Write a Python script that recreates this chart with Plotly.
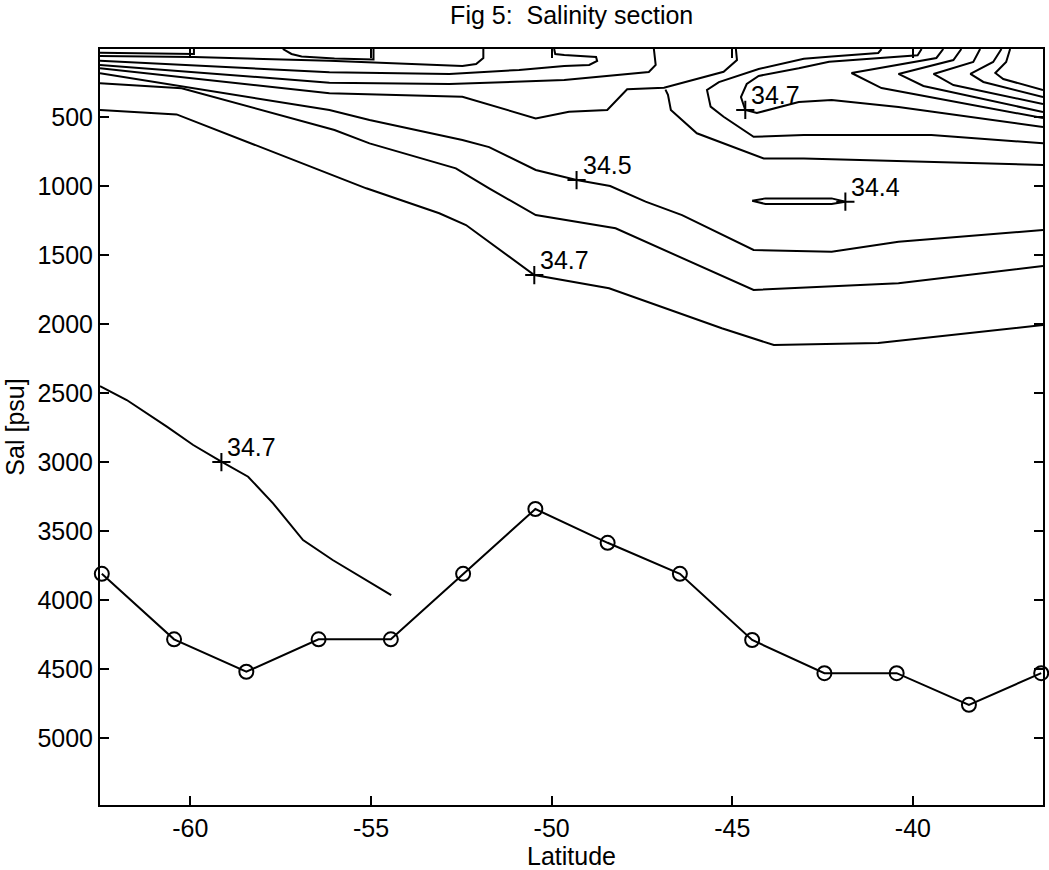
import plotly.graph_objects as go

# ---------------- data (latitude, depth) ----------------
station_lat = [-62.45, -60.45, -58.45, -56.45, -54.45, -52.45, -50.45,
               -48.45, -46.45, -44.45, -42.45, -40.45, -38.45, -36.45]
bottom_depth = [3810, 4285, 4520, 4285, 4285, 3810, 3340,
                3585, 3810, 4290, 4530, 4530, 4760, 4530]

deep_lat = [-62.50, -61.76, -60.65, -59.92, -59.14, -58.40, -57.71, -56.88, -56.06, -54.44]
deep_dep = [2450, 2550, 2743, 2876, 2997, 3106, 3299, 3565, 3710, 3964]

l1_lat = [-62.50, -60.38, -55.13, -53.11, -52.37, -50.48, -48.41, -45.29, -43.85, -40.96, -36.40]
l1_dep = [447, 479, 1015, 1196, 1281, 1644, 1740, 2030, 2151, 2137, 2006]

l2_lat = [-62.50, -60.24, -56.01, -55.04, -52.65, -51.73, -50.44, -48.23, -44.41, -40.40, -36.40]
l2_dep = [254, 290, 592, 689, 870, 1015, 1209, 1305, 1752, 1704, 1578]

l3_lat = [-62.50, -56.15, -55.04, -52.47, -51.73, -50.44, -49.31, -48.38, -47.40, -46.39,
          -44.41, -42.25, -40.40, -36.40]
l3_dep = [181, 447, 520, 665, 716, 882, 955, 998, 1112, 1209, 1462, 1475, 1402, 1317]

d_lat = [-62.50, -56.15, -52.47, -50.44, -49.52, -48.46, -47.91, -46.89, -45.24, -44.87, -44.90]
d_dep = [145, 326, 351, 508, 460, 447, 297, 286, 170, 85, 5]

c_lat = [-62.50, -56.15, -52.83, -49.65, -47.31, -47.12, -47.17]
c_dep = [121, 249, 259, 230, 172, 121, 5]

b_lat = [-62.50, -56.15, -52.83, -50.90, -49.65, -48.96, -48.74, -48.77, -49.65, -49.90, -49.93]
b_dep = [90, 174, 186, 157, 128, 121, 92, 63, 49, 41, 5]

t7_lat = [-62.50, -59.90, -56.15, -54.96, -52.47, -52.09, -51.89, -51.89]
t7_dep = [56, 63, 90, 104, 128, 114, 70, 5]

t1_lat = [-62.50, -59.90, -59.90]
t1_dep = [32, 41, 5]

t2_lat = [-57.44, -57.20, -56.92, -56.01, -54.93, -54.93]
t2_dep = [5, 41, 59, 74, 81, 5]

e_lat = [-46.85, -46.78, -46.70, -45.98, -44.13, -43.02, -36.40]
e_dep = [300, 338, 447, 616, 798, 798, 846]

f_lat = [-40.87, -40.96, -42.25, -43.02, -44.27, -45.37, -45.70, -45.60, -45.24, -44.41,
         -43.02, -39.49, -36.40]
f_dep = [5, 34, 60, 75, 150, 245, 302, 423, 496, 641, 629, 629, 689]

g_lat = [-39.76, -39.87, -42.32, -43.16, -44.27, -44.60, -44.76, -44.64, -44.32, -43.16,
         -42.25, -40.40, -36.40]
g_dep = [5, 50, 97, 145, 200, 259, 353, 447, 469, 389, 375, 426, 570]

ch0_lat = [-39.16, -39.35, -41.70, -40.87, -36.40]
ch0_dep = [5, 70, 179, 288, 506]
ch1_lat = [-38.66, -38.88, -40.40, -39.71, -36.40]
ch1_dep = [5, 85, 186, 273, 462]
ch2_lat = [-38.14, -38.33, -39.43, -38.88, -36.40]
ch2_dep = [5, 99, 186, 266, 404]
ch3_lat = [-37.55, -37.78, -38.41, -38.05, -36.40]
ch3_dep = [5, 99, 186, 244, 354]
ch4_lat = [-37.31, -37.42, -37.72, -37.50, -36.40]
ch4_dep = [5, 99, 179, 223, 302]

loop44_lat = [-44.45, -44.08, -42.25, -41.87, -42.25, -44.08, -44.45]
loop44_dep = [1105, 1088, 1088, 1112, 1129, 1129, 1105]

label_lat = [-59.14, -50.48, -49.31, -44.64, -41.87]
label_dep = [3000, 1644, 955, 447, 1112]
label_txt = ["34.7", "34.7", "34.5", "34.7", "34.4"]

x_ticks = [-60, -55, -50, -45, -40]
y_ticks = [500, 1000, 1500, 2000, 2500, 3000, 3500, 4000, 4500, 5000]

# ---------------- figure ----------------
FONT = "Liberation Sans, Arial, Helvetica, sans-serif"
FS = 25
fig = go.Figure()

contours = [
    (deep_lat, deep_dep), (l1_lat, l1_dep), (l2_lat, l2_dep), (l3_lat, l3_dep),
    (d_lat, d_dep), (c_lat, c_dep), (b_lat, b_dep), (t7_lat, t7_dep),
    (t1_lat, t1_dep), (t2_lat, t2_dep), (e_lat, e_dep), (f_lat, f_dep),
    (g_lat, g_dep), (ch0_lat, ch0_dep), (ch1_lat, ch1_dep), (ch2_lat, ch2_dep),
    (ch3_lat, ch3_dep), (ch4_lat, ch4_dep), (loop44_lat, loop44_dep),
]
for xs, ys in contours:
    fig.add_trace(go.Scatter(x=xs, y=ys, mode="lines",
                             line=dict(color="black", width=2),
                             hoverinfo="skip", showlegend=False))

fig.add_trace(go.Scatter(x=station_lat, y=bottom_depth, mode="lines+markers",
                         line=dict(color="black", width=2),
                         marker=dict(symbol="circle-open", size=14,
                                     line=dict(color="black", width=2)),
                         cliponaxis=False, showlegend=False))

fig.add_trace(go.Scatter(x=label_lat, y=label_dep, mode="markers",
                         marker=dict(symbol="cross-thin", size=13,
                                     line=dict(color="black", width=2)),
                         showlegend=False))

for lx, ly, lt in zip(label_lat, label_dep, label_txt):
    fig.add_annotation(x=lx, y=ly, text=lt, showarrow=False,
                       xanchor="left", yanchor="bottom", xshift=4, yshift=-1,
                       font=dict(family=FONT, size=FS, color="black"))

fig.update_layout(
    width=1049, height=870,
    margin=dict(l=100, r=4, t=49, b=65),
    paper_bgcolor="white", plot_bgcolor="white",
    font=dict(family=FONT, size=FS, color="black"),
    title=dict(text="Fig 5:\u00a0 Salinity section", x=0.545, xanchor="center",
               y=1 - 15 / 870, yanchor="middle", yref="container",
               font=dict(family=FONT, size=FS, color="black")),
)
fig.update_xaxes(range=[-62.5, -36.4], tickvals=x_ticks, ticktext=[str(v) for v in x_ticks],
                 showgrid=False, zeroline=False, showline=True, linecolor="black",
                 linewidth=2, mirror="ticks", ticks="inside", ticklen=9, tickwidth=2,
                 tickcolor="black", title=dict(text="Latitude", standoff=2,
                                               font=dict(family=FONT, size=FS)))
fig.update_yaxes(range=[5486, 5], tickvals=y_ticks, ticktext=[str(v) for v in y_ticks],
                 showgrid=False, zeroline=False, showline=True, linecolor="black",
                 linewidth=2, mirror="ticks", ticks="inside", ticklen=9, tickwidth=2,
                 tickcolor="black", title=dict(text="Sal [psu]", standoff=6,
                                               font=dict(family=FONT, size=FS)))

fig.write_html("out.html")
